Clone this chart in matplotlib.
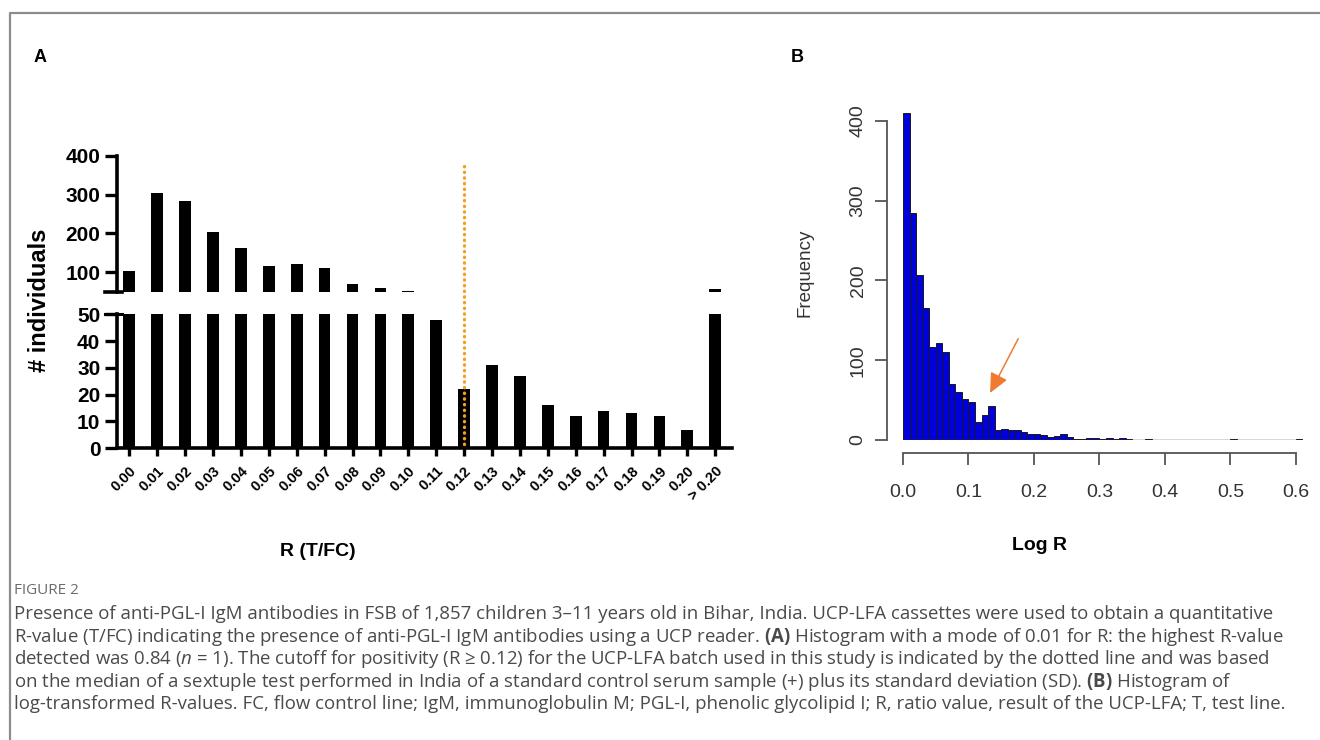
import numpy as np
import matplotlib.pyplot as plt
from matplotlib.lines import Line2D

plt.rcParams['font.family'] = ['Liberation Sans', 'DejaVu Sans']
plt.rcParams['mathtext.fontset'] = 'custom'
plt.rcParams['mathtext.rm'] = 'Open Sans'
plt.rcParams['mathtext.bf'] = 'Open Sans:bold'
plt.rcParams['mathtext.it'] = 'Open Sans:italic'

# ---- data ----
r_labels = ['0.00', '0.01', '0.02', '0.03', '0.04', '0.05', '0.06', '0.07',
            '0.08', '0.09', '0.10', '0.11', '0.12', '0.13', '0.14', '0.15',
            '0.16', '0.17', '0.18', '0.19', '0.20', '> 0.20']
r_counts = [104, 303, 283, 204, 163, 116, 121, 110, 70, 60, 52,
            48, 22, 31, 27, 16, 12, 14, 13, 12, 7, 57]
cutoff_label = '0.12'
cutoff_top = 373

log_bin_start = 0.0
log_bin_width = 0.01
log_counts = [410, 284, 207, 165, 117, 121, 110, 70, 60, 52,
              48, 23, 31, 43, 12, 14, 13, 12, 10, 8,
              8, 6, 4, 5, 8, 4, 1, 1, 3, 3,
              1, 2, 1, 2, 1, 0, 0, 1, 0, 0,
              0, 0, 0, 0, 0, 0, 0, 0, 0, 0,
              1, 0, 0, 0, 0, 0, 0, 0, 0, 0, 1]
arrow_head = (0.133, 59)
arrow_tail = (0.176, 127)

caption_head = 'FIGURE 2'
caption_lines = [
    'Presence of anti-PGL-I IgM antibodies in FSB of 1,857 children 3\u201311 years old in Bihar, India. '
    'UCP-LFA cassettes were used to obtain a quantitative',
    'R-value (T/FC) indicating the presence of anti-PGL-I IgM antibodies using a UCP reader. '
    r'$\mathbf{(A)}$ Histogram with a mode of 0.01 for R: the highest R-value',
    'detected was 0.84 ($n$ = 1). The cutoff for positivity (R \u2265 0.12) for the UCP-LFA batch used '
    'in this study is indicated by the dotted line and was based',
    'on the median of a sextuple test performed in India of a standard control serum sample (+) '
    r'plus its standard deviation (SD). $\mathbf{(B)}$ Histogram of',
    'log-transformed R-values. FC, flow control line; IgM, immunoglobulin M; PGL-I, phenolic glycolipid I; '
    'R, ratio value, result of the UCP-LFA; T, test line.',
]

W, H = 1320, 740
fig = plt.figure(figsize=(W / 100, H / 100), dpi=100)


def px_rect(l, t, r, b):
    return [l / W, 1 - b / H, (r - l) / W, (b - t) / H]


# ---- panel A: broken-axis bar chart ----
ax_lo = fig.add_axes(px_rect(117, 314.3, 731.7, 448.3))
ax_hi = fig.add_axes(px_rect(117, 155.7, 731.7, 291.7))
x = np.arange(len(r_labels))
for ax in (ax_lo, ax_hi):
    ax.bar(x, r_counts, width=0.42, color='black')
    ax.set_xlim(-0.44, len(r_labels) - 0.41)
    ax.spines[['top', 'right']].set_visible(False)
    ax.spines['left'].set_linewidth(2.6)
    ax.spines['bottom'].set_linewidth(2.6)
    ax.tick_params(length=8.5, width=2.4, labelsize=15)

ax_lo.set_ylim(0, 50)
ax_lo.set_yticks([0, 10, 20, 30, 40, 50])
ax_lo.set_yticklabels(['0', '10', '20', '30', '40', '50'], fontweight='bold', fontsize=15)
ax_lo.set_xticks(x)
ax_lo.set_xticklabels(r_labels, rotation=45, ha='right', rotation_mode='anchor',
                      fontsize=10.5, fontweight='bold')
ax_lo.tick_params(axis='x', length=6, pad=5)

ax_hi.set_ylim(50, 400)
ax_hi.set_yticks([100, 200, 300, 400])
ax_hi.set_yticklabels(['100', '200', '300', '400'], fontweight='bold', fontsize=15)
ax_hi.spines['bottom'].set_visible(False)
ax_hi.tick_params(axis='x', bottom=False, labelbottom=False)

# break marks
bx = [(105 - 117) / 614.7, (122 - 117) / 614.7]
ax_hi.plot(bx, [0, 0], transform=ax_hi.transAxes, color='black', lw=2.6, clip_on=False)
ax_lo.plot(bx, [1, 1], transform=ax_lo.transAxes, color='black', lw=2.2, clip_on=False)

# cutoff dotted line through both segments
ci = r_labels.index(cutoff_label)
y_bot = ax_hi.transData.inverted().transform(ax_lo.transData.transform((ci, 0)))[1]
ax_hi.plot([ci, ci], [cutoff_top, y_bot], color='#F5A020', lw=2.4,
           linestyle=(0, (0.1, 1.6)), dash_capstyle='round', clip_on=False, zorder=5)

fig.text(40 / W, 1 - 300 / H, '# individuals', rotation=90, ha='center', va='center',
         fontsize=17, fontweight='bold')
fig.text(318 / W, 1 - 552 / H, 'R (T/FC)', ha='center', va='center',
         fontsize=14, fontweight='bold')
fig.text(40 / W, 1 - 58 / H, 'A', ha='center', va='center', fontsize=13, fontweight='bold')

# ---- panel B: histogram ----
axb = fig.add_axes(px_rect(886.7, 105, 1305, 440))
edges = log_bin_start + log_bin_width * np.arange(len(log_counts))
axb.hlines(0, edges[0], edges[-1] + log_bin_width, color='#333333', lw=1.0)
axb.bar(edges, log_counts, width=log_bin_width, align='edge', color='#0000DD',
        edgecolor='#1a1a1a', linewidth=0.7)
axb.set_xlim(-0.0249, 0.614)
axb.set_ylim(0, 420)
axb.spines[['top', 'right']].set_visible(False)
for s in ('left', 'bottom'):
    axb.spines[s].set_color('#555555')
    axb.spines[s].set_linewidth(1.3)
axb.spines['left'].set_bounds(0, 400)
axb.spines['bottom'].set_bounds(0, 0.6)
axb.spines['bottom'].set_position(('outward', 9.4))
axb.set_xticks([0.0, 0.1, 0.2, 0.3, 0.4, 0.5, 0.6])
axb.set_xticklabels(['0.0', '0.1', '0.2', '0.3', '0.4', '0.5', '0.6'])
axb.set_yticks([0, 100, 200, 300, 400])
axb.set_yticklabels(['0', '100', '200', '300', '400'], rotation=90, va='center')
axb.tick_params(length=8.4, width=1.3, color='#555555', labelsize=14,
                labelcolor='#333333', pad=6)
axb.tick_params(axis='x', pad=14)
axb.set_ylabel('Frequency', fontsize=13.5, color='#333333', labelpad=26)
axb.annotate('', xy=arrow_head, xytext=arrow_tail,
             arrowprops=dict(arrowstyle='-|>,head_length=0.6,head_width=0.28',
                             color='#F07A30', lw=1.1, mutation_scale=20,
                             shrinkA=0, shrinkB=0))
fig.text(1040 / W, 1 - 546 / H, 'Log R', ha='center', va='center',
         fontsize=14, fontweight='bold')
fig.text(797 / W, 1 - 58 / H, 'B', ha='center', va='center', fontsize=13, fontweight='bold')

# ---- frame and caption ----
fig.add_artist(Line2D([10 / W, 10 / W, 1], [0, 1 - 13 / H, 1 - 13 / H],
                      transform=fig.transFigure, color='#8c8c8c', lw=1.6))
fig.text(14 / W, 1 - 591 / H, caption_head, ha='left', va='center',
         fontsize=11, color='#6b6b6b', family='Open Sans')
for i, line in enumerate(caption_lines):
    fig.text(14 / W, 1 - (614 + 22.6 * i) / H, line, ha='left', va='center',
             fontsize=13.4, color='#4a4a4a', family='Open Sans')

fig.savefig('out.png', dpi=100)
